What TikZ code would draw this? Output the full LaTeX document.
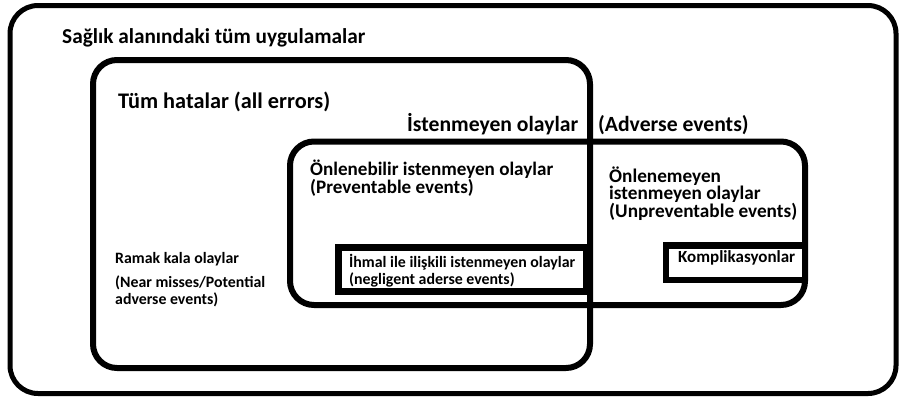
\documentclass[tikz,border=0pt]{standalone}
\usepackage{fontspec}
\setmainfont{Carlito}
\newlength\fitlen
\newcommand\fitdef[3]{\settowidth\fitlen{\fontsize{10pt}{12pt}\selectfont\bfseries #3}\pgfmathsetmacro#1{10*#2/\fitlen}}
\fitdef\fsA{303}{Sağlık alanındaki tüm uygulamalar}
\fitdef\fsB{212}{Tüm hatalar (all errors)}
\fitdef\fsC{171}{İstenmeyen olaylar}
\fitdef\fsD{243}{Önlenebilir istenmeyen olaylar}
\fitdef\fsE{188}{(Unpreventable events)}
\fitdef\fsF{150}{(Near misses/Potential}
\fitdef\fsG{226}{İhmal ile ilişkili istenmeyen olaylar}
\fitdef\fsH{117}{Komplikasyonlar}
\begin{document}
\begin{tikzpicture}[x=1pt,y=-1pt,
  lbl/.style={anchor=base west, inner sep=0pt, text height=0.68em, text depth=0.12em,
    font=\bfseries\fontsize{#1 pt}{#1 pt}\selectfont},
  frame/.style={draw=black, line width=#1, rounded corners=24pt},
  boxline/.style={draw=black, line width=#1}]
\useasboundingbox (0,0) rectangle (904,397);
% boxes
\draw[frame=5pt, rounded corners=28pt] (10,5.5) rectangle (896,393.5);
\draw[frame=6pt] (93,60) rectangle (590,368);
\draw[frame=6pt] (290,141.5) rectangle (805,305);
\draw[boxline=7pt] (338.5,247.5) rectangle (586.5,291.5);
\draw[boxline=6.5pt] (666,245.5) rectangle (805,280);
% texts
\node[lbl=\fsA] (title) at (62,43) {Sağlık alanındaki tüm uygulamalar};
\node[lbl=\fsB] (errors) at (118,108) {Tüm hatalar (all errors)};
\node[lbl=\fsC] (adv1) at (407,131) {İstenmeyen olaylar};
\node[lbl=\fsC] (adv2) at (598,131) {(Adverse events)};
\node[lbl=\fsD] (prev1) at (310,175) {Önlenebilir istenmeyen olaylar};
\node[lbl=\fsD] (prev2) at (310,193) {(Preventable events)};
\node[lbl=\fsE] (unp1) at (609,182) {Önlenemeyen};
\node[lbl=\fsE] (unp2) at (609,199.5) {istenmeyen olaylar};
\node[lbl=\fsE] (unp3) at (609,217.5) {(Unpreventable events)};
\node[lbl=\fsF] (near1) at (115,263) {Ramak kala olaylar};
\node[lbl=\fsF] (near2) at (115,287.5) {(Near misses/Potential};
\node[lbl=\fsF] (near3) at (115,304) {adverse events)};
\node[lbl=\fsG] (neg1) at (349,267) {İhmal ile ilişkili istenmeyen olaylar};
\node[lbl=\fsG] (neg2) at (349,284) {(negligent aderse events)};
\node[lbl=\fsH] (komp) at (678,262.5) {Komplikasyonlar};
\end{tikzpicture}
\end{document}
